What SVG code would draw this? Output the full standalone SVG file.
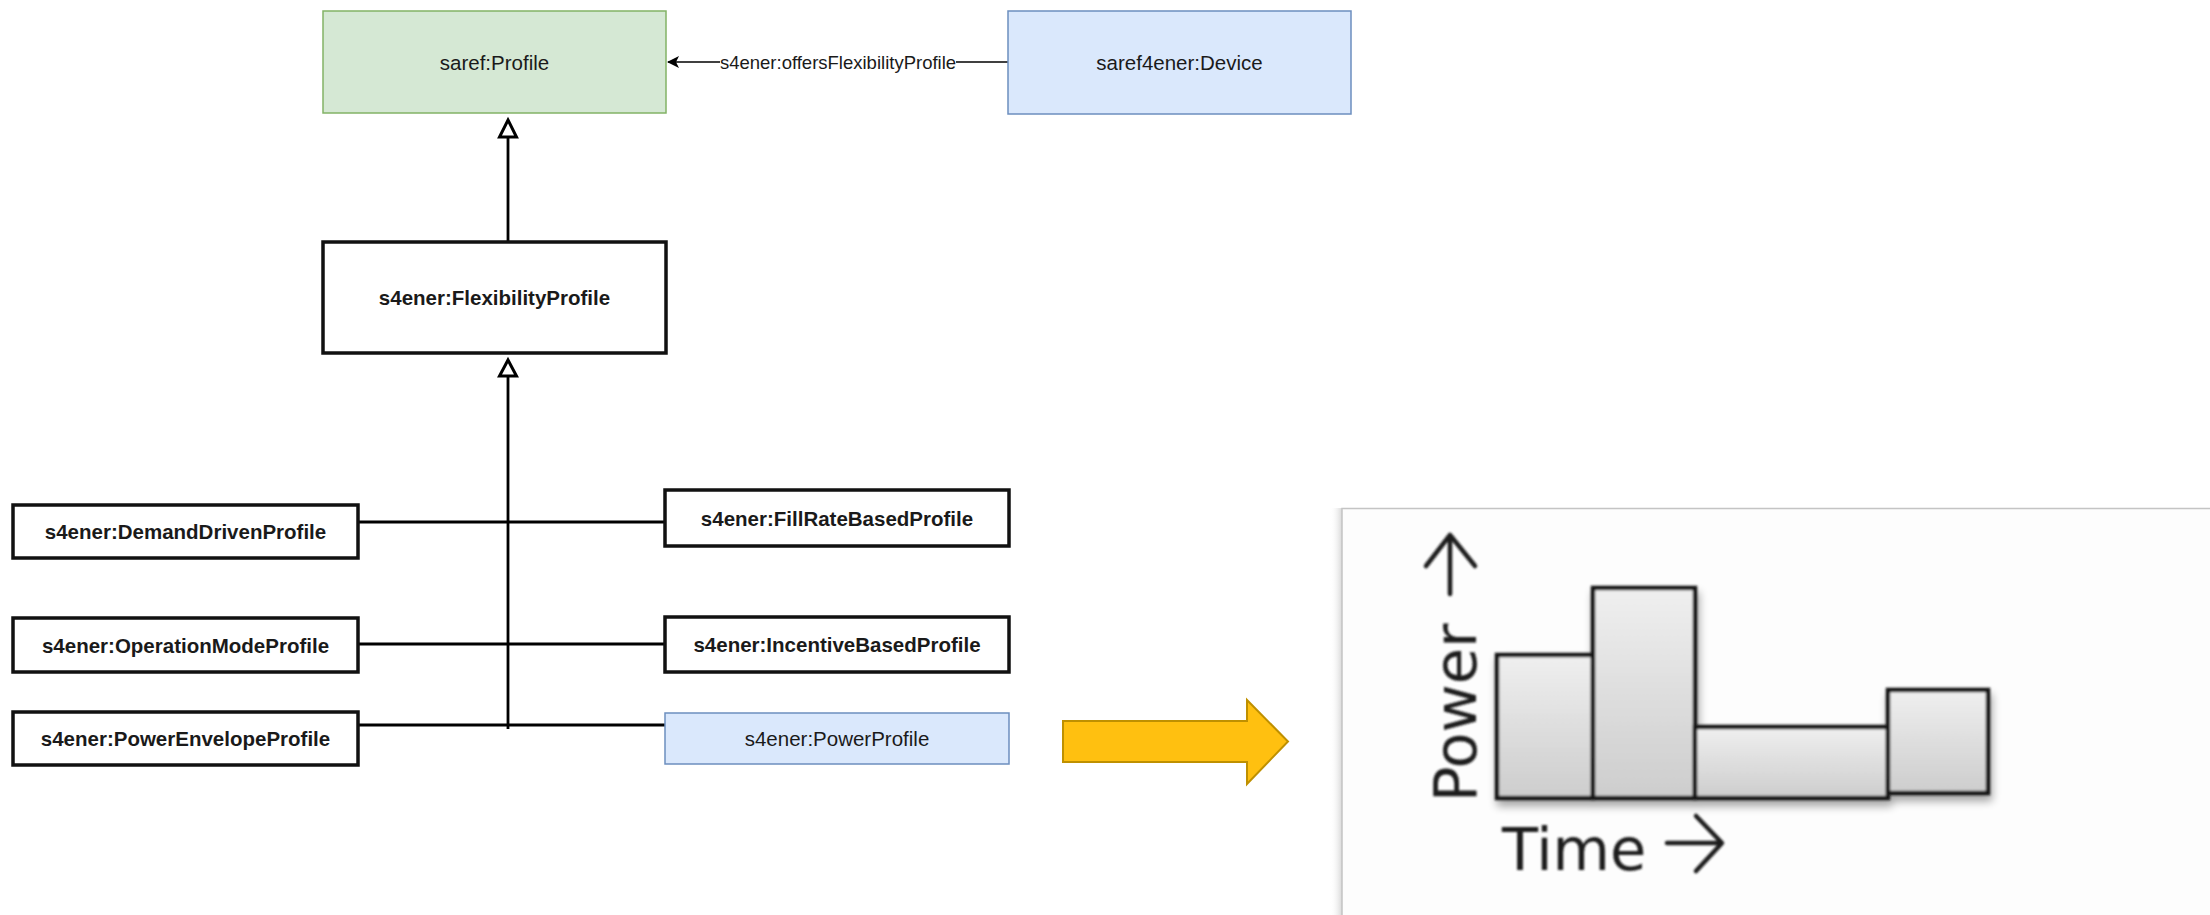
<svg xmlns="http://www.w3.org/2000/svg" width="2210" height="915" viewBox="0 0 2210 915">
  <style>
    .lbl { font-family: "Liberation Sans", Arial, Helvetica, sans-serif; font-size: 20.5px; fill: #1a1a1a; text-anchor: middle; dominant-baseline: central; }
    .bold { font-weight: bold; }
    .green { fill: #d5e8d4; stroke: #82b366; stroke-width: 1.5; }
    .blue { fill: #dae8fc; stroke: #6c8ebf; stroke-width: 1.5; }
    .plain { fill: #ffffff; stroke: #111111; stroke-width: 3.5; }
    .edge { fill: none; stroke: #000000; stroke-width: 2.8; }
    .thin { fill: none; stroke: #000000; stroke-width: 1.6; }
    .hollow { fill: #ffffff; stroke: #000000; stroke-width: 3; stroke-linejoin: miter; }
    .elabel { font-family: "Liberation Sans", Arial, Helvetica, sans-serif; font-size: 18.5px; fill: #1a1a1a; text-anchor: middle; dominant-baseline: central; }
    .bar { stroke: #151515; stroke-width: 4.5; fill: url(#barFill); }
    .chartText { font-family: "DejaVu Sans", Verdana, sans-serif; font-size: 59px; fill: #1c1c1c; }
    .chartArrow { fill: none; stroke: #1c1c1c; stroke-width: 4.5; stroke-linecap: round; stroke-linejoin: round; }
  </style>
  <defs>
    <marker id="filledArrow" viewBox="0 0 12 12" refX="11" refY="6" markerWidth="12" markerHeight="12" markerUnits="userSpaceOnUse" orient="auto">
      <path d="M0,0 L12,6 L0,12 L3,6 Z" fill="#000000"/>
    </marker>
    <linearGradient id="barFill" x1="0" y1="0" x2="0" y2="1">
      <stop offset="0" stop-color="#efefef"/>
      <stop offset="1" stop-color="#cdcdcd"/>
    </linearGradient>
    <linearGradient id="panelShade" x1="0" y1="0" x2="1" y2="0">
      <stop offset="0" stop-color="#ffffff" stop-opacity="0"/>
      <stop offset="1" stop-color="#d8d8d8"/>
    </linearGradient>
    <filter id="soft" x="-5%" y="-5%" width="110%" height="115%">
      <feGaussianBlur stdDeviation="0.9"/>
    </filter>
    <filter id="barShadow" x="-10%" y="-10%" width="120%" height="130%">
      <feGaussianBlur in="SourceAlpha" stdDeviation="4"/>
      <feOffset dx="2" dy="6" result="sh"/>
      <feComponentTransfer><feFuncA type="linear" slope="0.35"/></feComponentTransfer>
      <feMerge><feMergeNode/><feMergeNode in="SourceGraphic"/></feMerge>
    </filter>
  </defs>

  <rect width="2210" height="915" fill="#ffffff"/>

  <!-- connectors -->
  <g id="connectors">
    <!-- offersFlexibilityProfile -->
    <line class="thin" x1="1008" y1="62" x2="668" y2="62" marker-end="url(#filledArrow)"/>
    <rect x="720" y="51" width="236" height="22" fill="#ffffff"/>
    <text class="elabel" x="838" y="62">s4ener:offersFlexibilityProfile</text>

    <!-- FlexibilityProfile subclass of saref:Profile -->
    <line class="edge" x1="508" y1="242" x2="508" y2="137"/>
    <path class="hollow" d="M508,120 L516.5,137 L499.5,137 Z"/>

    <!-- subclass trunk into FlexibilityProfile -->
    <line class="edge" x1="508" y1="729" x2="508" y2="376"/>
    <path class="hollow" d="M508,360 L516.5,376 L499.5,376 Z"/>

    <!-- branches -->
    <line class="edge" x1="358" y1="522" x2="665" y2="522"/>
    <line class="edge" x1="358" y1="644" x2="665" y2="644"/>
    <line class="edge" x1="358" y1="725" x2="665" y2="725"/>
  </g>

  <!-- nodes -->
  <g id="node-saref-profile">
    <rect class="green" x="323" y="11" width="343" height="102"/>
    <text class="lbl" x="494.5" y="62">saref:Profile</text>
  </g>
  <g id="node-device">
    <rect class="blue" x="1008" y="11" width="343" height="103"/>
    <text class="lbl" x="1179.5" y="62">saref4ener:Device</text>
  </g>
  <g id="node-flexibility-profile">
    <rect class="plain" x="323" y="242" width="343" height="111"/>
    <text class="lbl bold" x="494.5" y="297.5">s4ener:FlexibilityProfile</text>
  </g>
  <g id="node-demand-driven">
    <rect class="plain" x="13" y="505" width="345" height="53"/>
    <text class="lbl bold" x="185.5" y="531.5">s4ener:DemandDrivenProfile</text>
  </g>
  <g id="node-operation-mode">
    <rect class="plain" x="13" y="618" width="345" height="54"/>
    <text class="lbl bold" x="185.5" y="645">s4ener:OperationModeProfile</text>
  </g>
  <g id="node-power-envelope">
    <rect class="plain" x="13" y="712" width="345" height="53"/>
    <text class="lbl bold" x="185.5" y="738.5">s4ener:PowerEnvelopeProfile</text>
  </g>
  <g id="node-fill-rate">
    <rect class="plain" x="665" y="490" width="344" height="56"/>
    <text class="lbl bold" x="837" y="518">s4ener:FillRateBasedProfile</text>
  </g>
  <g id="node-incentive">
    <rect class="plain" x="665" y="617" width="344" height="55"/>
    <text class="lbl bold" x="837" y="644.5">s4ener:IncentiveBasedProfile</text>
  </g>
  <g id="node-power-profile">
    <rect class="blue" x="665" y="713" width="344" height="51"/>
    <text class="lbl" x="837" y="738.5">s4ener:PowerProfile</text>
  </g>

  <!-- block arrow pointing at the illustration -->
  <g id="node-block-arrow">
    <path d="M1063,721 H1247 V700 L1288,741.5 L1247,784 V762 H1063 Z" fill="#ffc010" stroke="#bf9000" stroke-width="2"/>
  </g>

  <!-- power-over-time illustration -->
  <g id="node-power-chart">
    <rect x="1330" y="508" width="12" height="407" fill="url(#panelShade)"/>
    <rect x="1342" y="508.5" width="880" height="420" fill="#fdfdfd" stroke="#c4c4c4" stroke-width="1.5"/>
    <g filter="url(#soft)">
      <g filter="url(#barShadow)">
        <rect class="bar" x="1497" y="655" width="96" height="143"/>
        <rect class="bar" x="1593" y="588" width="102" height="210"/>
        <rect class="bar" x="1695" y="727" width="193" height="71"/>
        <rect class="bar" x="1888" y="690" width="100" height="103"/>
      </g>
      <text class="chartText" transform="translate(1476,802) rotate(-90)">Power</text>
      <path class="chartArrow" d="M1450,594 V535 M1426,566 L1450,535 L1475,566"/>
      <text class="chartText" x="1502" y="870">Time</text>
      <path class="chartArrow" d="M1667,843 H1720 M1696,816 L1722,843 L1696,871"/>
    </g>
  </g>
</svg>
